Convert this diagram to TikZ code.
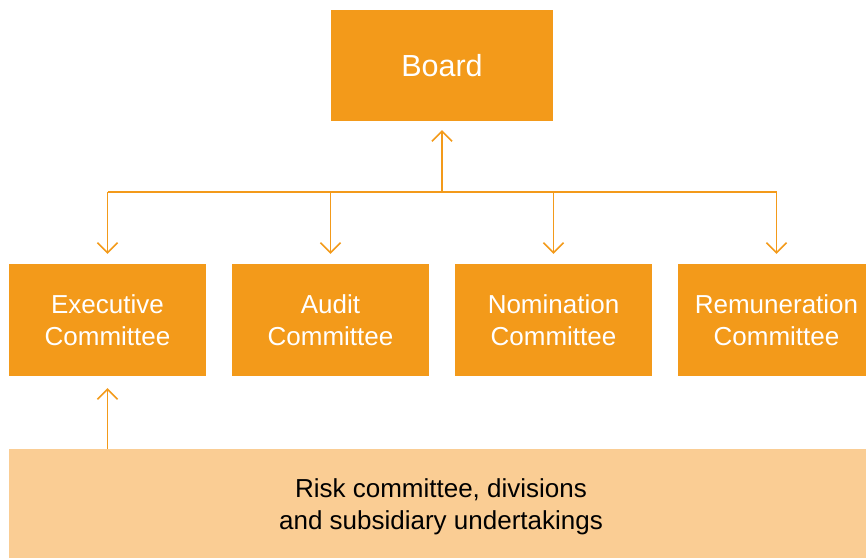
\documentclass[tikz,border=0pt]{standalone}
\usepackage{fontspec}
\setmainfont{Liberation Sans}
\usetikzlibrary{arrows.meta}
\definecolor{orng}{HTML}{F39A1A}
\definecolor{lightorng}{HTML}{FACD94}
\begin{document}
\begin{tikzpicture}[x=1pt,y=-1pt,
  box/.style={fill=orng,draw=none,text=white,align=center,inner sep=0pt,font=\fontsize{26}{32}\selectfont},
  conn/.style={draw=orng,line width=1.6pt,-{Straight Barb[length=10pt,width=20pt,line width=1.6pt]}},
  plain/.style={draw=orng,line width=1.6pt}]
\useasboundingbox (0,0) rectangle (866,558);
\node[box,minimum width=222pt,minimum height=111pt,font=\fontsize{30.5}{36}\selectfont] (board) at (442,65.5) {Board};
\node[box,minimum width=197pt,minimum height=112pt] (exec) at (107.5,320) {Executive\\Committee};
\node[box,minimum width=197pt,minimum height=112pt] (audit) at (330.5,320) {Audit\\Committee};
\node[box,minimum width=197pt,minimum height=112pt] (nom) at (553.5,320) {Nomination\\Committee};
\node[box,minimum width=197pt,minimum height=112pt] (rem) at (776.5,320) {Remuneration\\Committee};
\node[box,fill=lightorng,minimum width=857pt,minimum height=109pt] (risk) at (437.5,503.5) {};
\node[box,fill=none,text=black] (risklabel) at (441,507) {Risk committee, divisions\\and subsidiary undertakings};
\coordinate (hub) at (442,192);
\coordinate (hl) at (107.5,192);
\coordinate (hr) at (776.5,192);
\draw[plain] (hl) -- (hr);
\draw[conn] (hub) -- ([yshift=-9pt]board.south);
\draw[conn] (hl) -- ([yshift=10pt]exec.north);
\draw[conn] (hl -| audit.north) -- ([yshift=10pt]audit.north);
\draw[conn] (hl -| nom.north) -- ([yshift=10pt]nom.north);
\draw[conn] (hr) -- ([yshift=10pt]rem.north);
\draw[conn] (risk.north -| exec.south) -- ([yshift=-12pt]exec.south);
\end{tikzpicture}
\end{document}
